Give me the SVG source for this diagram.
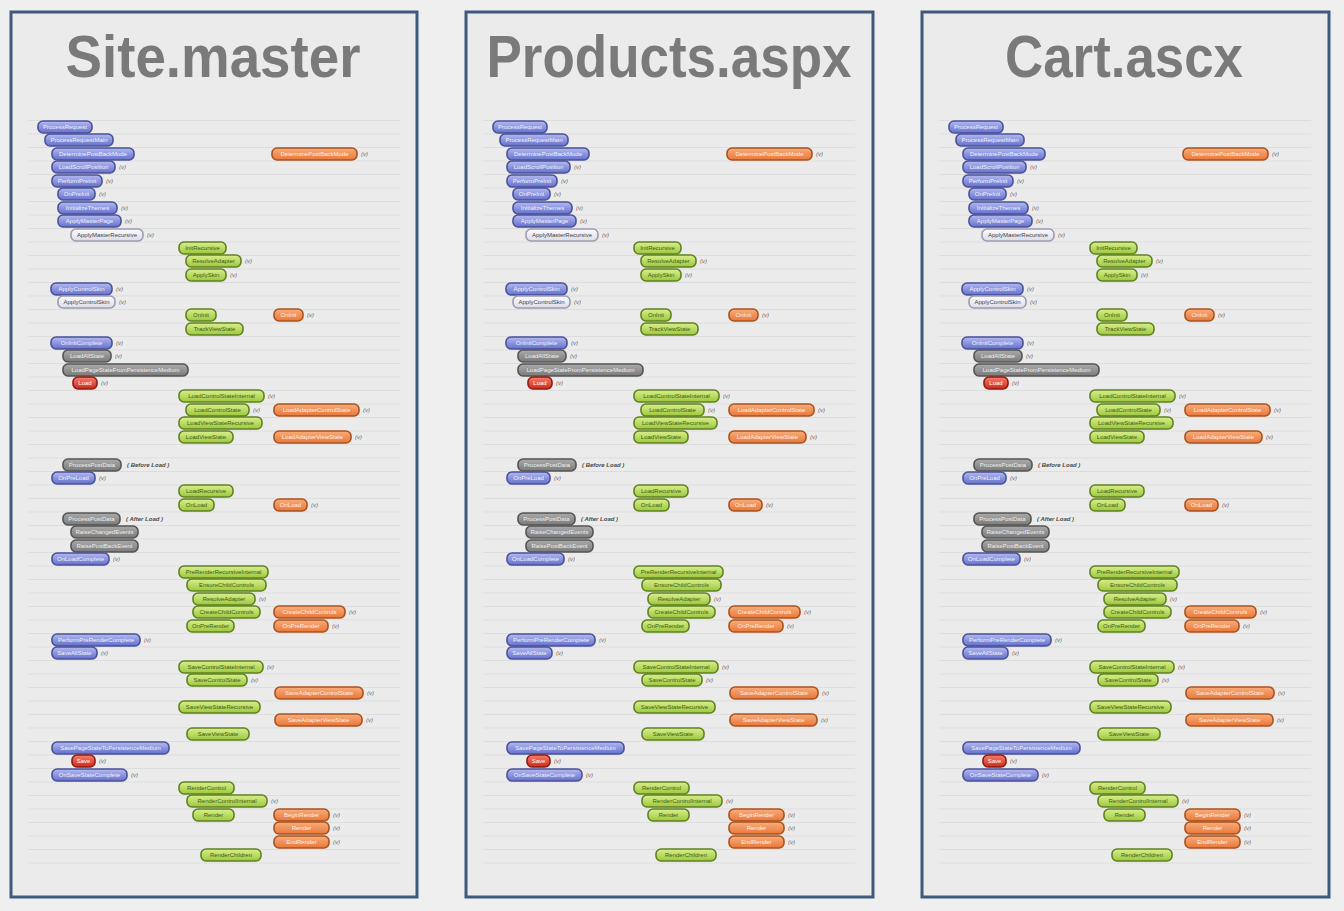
<svg xmlns="http://www.w3.org/2000/svg" width="1344" height="911" viewBox="0 0 1344 911">
<defs>
<linearGradient id="gb" x1="0" y1="0" x2="0" y2="1"><stop offset="0" stop-color="#b3baf0"/><stop offset="1" stop-color="#6570cc"/></linearGradient>
<linearGradient id="gg" x1="0" y1="0" x2="0" y2="1"><stop offset="0" stop-color="#d9ef8e"/><stop offset="1" stop-color="#9dc73e"/></linearGradient>
<linearGradient id="go" x1="0" y1="0" x2="0" y2="1"><stop offset="0" stop-color="#f8ae7c"/><stop offset="1" stop-color="#e8773a"/></linearGradient>
<linearGradient id="gk" x1="0" y1="0" x2="0" y2="1"><stop offset="0" stop-color="#ababab"/><stop offset="1" stop-color="#7a7a7a"/></linearGradient>
<linearGradient id="gl" x1="0" y1="0" x2="0" y2="1"><stop offset="0" stop-color="#fbfbfe"/><stop offset="1" stop-color="#dcdce8"/></linearGradient>
<linearGradient id="gr" x1="0" y1="0" x2="0" y2="1"><stop offset="0" stop-color="#f5806c"/><stop offset="1" stop-color="#d0281a"/></linearGradient>
<pattern id="rule" x="0" y="120" width="400" height="13.5" patternUnits="userSpaceOnUse"><line x1="0" y1="0.5" x2="400" y2="0.5" stroke="#dddddd" stroke-width="1"/></pattern>
<style>
.frame{fill:#ebebeb;stroke:#3f5a7e;stroke-width:3}
.title{font-family:"Liberation Sans",Arial,sans-serif;font-weight:bold;font-size:60px;fill:#7a7a7a;text-anchor:middle}
.n rect{rx:5px;ry:5px;stroke-width:1.6}
.n text{font-family:"Liberation Sans",Arial,sans-serif;font-size:6px;text-anchor:middle}
.b rect{fill:url(#gb);stroke:#4a5299}
.b text{fill:#f0f2ff}
.g rect{fill:url(#gg);stroke:#5f8220}
.g text{fill:#3e5c0c}
.o rect{fill:url(#go);stroke:#a9531f}
.o text{fill:#fff0e6}
.k rect{fill:url(#gk);stroke:#555555}
.k text{fill:#efefef}
.l rect{fill:url(#gl);stroke:#9c9cb0}
.l text{fill:#444444}
.r rect{fill:url(#gr);stroke:#8e1c12}
.r text{fill:#ffffff}
.n text.v{font-style:italic;text-anchor:start;fill:#666666}
.n text.note{font-style:italic;font-weight:bold;text-anchor:start;fill:#4a4a4a}
</style>
</defs>
<rect x="0" y="0" width="1344" height="911" fill="#efefef"/>
<g id="connectors"/>

<g id="panel-site-master">
<rect class="frame" x="11" y="12" width="406" height="885"/>
<rect x="28" y="120" width="372" height="750" fill="url(#rule)"/>
<text class="title" x="213" y="77" textLength="295" lengthAdjust="spacingAndGlyphs">Site.master</text>
<g id="sm-n01" class="n b"><rect x="38" y="121" width="54" height="12"/><text x="65" y="129.1">ProcessRequest</text></g>
<g id="sm-n02" class="n b"><rect x="45" y="134" width="68" height="12"/><text x="79" y="142.1">ProcessRequestMain</text></g>
<g id="sm-n03" class="n b"><rect x="52" y="148" width="82" height="12"/><text x="93" y="156.1">DeterminePostBackMode</text></g>
<g id="sm-n04" class="n o"><rect x="272" y="148" width="85" height="12"/><text x="314.5" y="156.1">DeterminePostBackMode</text><text class="v" x="361" y="156.1">(v)</text></g>
<g id="sm-n05" class="n b"><rect x="52" y="161" width="63" height="12"/><text x="83.5" y="169.1">LoadScrollPosition</text><text class="v" x="119" y="169.1">(v)</text></g>
<g id="sm-n06" class="n b"><rect x="52" y="175" width="50" height="12"/><text x="77" y="183.1">PerformPreInit</text><text class="v" x="106" y="183.1">(v)</text></g>
<g id="sm-n07" class="n b"><rect x="58" y="188" width="37" height="12"/><text x="76.5" y="196.1">OnPreInit</text><text class="v" x="99" y="196.1">(v)</text></g>
<g id="sm-n08" class="n b"><rect x="58" y="202" width="59" height="12"/><text x="87.5" y="210.1">InitializeThemes</text><text class="v" x="121" y="210.1">(v)</text></g>
<g id="sm-n09" class="n b"><rect x="58" y="215" width="63" height="12"/><text x="89.5" y="223.1">ApplyMasterPage</text><text class="v" x="125" y="223.1">(v)</text></g>
<g id="sm-n10" class="n l"><rect x="71" y="229" width="72" height="12"/><text x="107" y="237.1">ApplyMasterRecursive</text><text class="v" x="147" y="237.1">(v)</text></g>
<g id="sm-n11" class="n g"><rect x="179" y="242" width="47" height="12"/><text x="202.5" y="250.1">InitRecursive</text></g>
<g id="sm-n12" class="n g"><rect x="186" y="255" width="55" height="12"/><text x="213.5" y="263.1">ResolveAdapter</text><text class="v" x="245" y="263.1">(v)</text></g>
<g id="sm-n13" class="n g"><rect x="186" y="269" width="40" height="12"/><text x="206" y="277.1">ApplySkin</text><text class="v" x="230" y="277.1">(v)</text></g>
<g id="sm-n14" class="n b"><rect x="51" y="283" width="61" height="12"/><text x="81.5" y="291.1">ApplyControlSkin</text><text class="v" x="116" y="291.1">(v)</text></g>
<g id="sm-n15" class="n l"><rect x="58" y="296" width="57" height="12"/><text x="86.5" y="304.1">ApplyControlSkin</text><text class="v" x="119" y="304.1">(v)</text></g>
<g id="sm-n16" class="n g"><rect x="186" y="309" width="30" height="12"/><text x="201" y="317.1">OnInit</text></g>
<g id="sm-n17" class="n o"><rect x="274" y="309" width="29" height="12"/><text x="288.5" y="317.1">OnInit</text><text class="v" x="307" y="317.1">(v)</text></g>
<g id="sm-n18" class="n g"><rect x="186" y="323" width="57" height="12"/><text x="214.5" y="331.1">TrackViewState</text></g>
<g id="sm-n19" class="n b"><rect x="51" y="337" width="61" height="12"/><text x="81.5" y="345.1">OnInitComplete</text><text class="v" x="116" y="345.1">(v)</text></g>
<g id="sm-n20" class="n k"><rect x="63" y="350" width="48" height="12"/><text x="87" y="358.1">LoadAllState</text><text class="v" x="115" y="358.1">(v)</text></g>
<g id="sm-n21" class="n k"><rect x="63" y="364" width="125" height="12"/><text x="125.5" y="372.1">LoadPageStateFromPersistenceMedium</text></g>
<g id="sm-n22" class="n r"><rect x="73" y="377" width="24" height="12"/><text x="85" y="385.1">Load</text><text class="v" x="101" y="385.1">(v)</text></g>
<g id="sm-n23" class="n g"><rect x="179" y="390" width="85" height="12"/><text x="221.5" y="398.1">LoadControlStateInternal</text><text class="v" x="268" y="398.1">(v)</text></g>
<g id="sm-n24" class="n g"><rect x="186" y="404" width="63" height="12"/><text x="217.5" y="412.1">LoadControlState</text><text class="v" x="253" y="412.1">(v)</text></g>
<g id="sm-n25" class="n o"><rect x="274" y="404" width="85" height="12"/><text x="316.5" y="412.1">LoadAdapterControlState</text><text class="v" x="363" y="412.1">(v)</text></g>
<g id="sm-n26" class="n g"><rect x="179" y="417" width="83" height="12"/><text x="220.5" y="425.1">LoadViewStateRecursive</text></g>
<g id="sm-n27" class="n g"><rect x="179" y="431" width="54" height="12"/><text x="206" y="439.1">LoadViewState</text></g>
<g id="sm-n28" class="n o"><rect x="274" y="431" width="77" height="12"/><text x="312.5" y="439.1">LoadAdapterViewState</text><text class="v" x="355" y="439.1">(v)</text></g>
<g id="sm-n29" class="n k"><rect x="63" y="459" width="58" height="12"/><text x="92" y="467.1">ProcessPostData</text><text class="note" x="127" y="467.1">( Before Load )</text></g>
<g id="sm-n30" class="n b"><rect x="52" y="472" width="43" height="12"/><text x="73.5" y="480.1">OnPreLoad</text><text class="v" x="99" y="480.1">(v)</text></g>
<g id="sm-n31" class="n g"><rect x="179" y="485" width="54" height="12"/><text x="206" y="493.1">LoadRecursive</text></g>
<g id="sm-n32" class="n g"><rect x="179" y="499" width="35" height="12"/><text x="196.5" y="507.1">OnLoad</text></g>
<g id="sm-n33" class="n o"><rect x="274" y="499" width="33" height="12"/><text x="290.5" y="507.1">OnLoad</text><text class="v" x="311" y="507.1">(v)</text></g>
<g id="sm-n34" class="n k"><rect x="63" y="513" width="57" height="12"/><text x="91.5" y="521.1">ProcessPostData</text><text class="note" x="126" y="521.1">( After Load )</text></g>
<g id="sm-n35" class="n k"><rect x="71" y="526" width="67" height="12"/><text x="104.5" y="534.1">RaiseChangedEvents</text></g>
<g id="sm-n36" class="n k"><rect x="71" y="540" width="67" height="12"/><text x="104.5" y="548.1">RaisePostBackEvent</text></g>
<g id="sm-n37" class="n b"><rect x="52" y="553" width="57" height="12"/><text x="80.5" y="561.1">OnLoadComplete</text><text class="v" x="113" y="561.1">(v)</text></g>
<g id="sm-n38" class="n g"><rect x="179" y="566" width="89" height="12"/><text x="223.5" y="574.1">PreRenderRecursiveInternal</text></g>
<g id="sm-n39" class="n g"><rect x="187" y="579" width="79" height="12"/><text x="226.5" y="587.1">EnsureChildControls</text></g>
<g id="sm-n40" class="n g"><rect x="193" y="593" width="62" height="12"/><text x="224" y="601.1">ResolveAdapter</text><text class="v" x="259" y="601.1">(v)</text></g>
<g id="sm-n41" class="n g"><rect x="193" y="606" width="67" height="12"/><text x="226.5" y="614.1">CreateChildControls</text></g>
<g id="sm-n42" class="n o"><rect x="274" y="606" width="71" height="12"/><text x="309.5" y="614.1">CreateChildControls</text><text class="v" x="349" y="614.1">(v)</text></g>
<g id="sm-n43" class="n g"><rect x="187" y="620" width="47" height="12"/><text x="210.5" y="628.1">OnPreRender</text></g>
<g id="sm-n44" class="n o"><rect x="274" y="620" width="54" height="12"/><text x="301" y="628.1">OnPreRender</text><text class="v" x="332" y="628.1">(v)</text></g>
<g id="sm-n45" class="n b"><rect x="52" y="634" width="88" height="12"/><text x="96" y="642.1">PerformPreRenderComplete</text><text class="v" x="144" y="642.1">(v)</text></g>
<g id="sm-n46" class="n b"><rect x="52" y="647" width="45" height="12"/><text x="74.5" y="655.1">SaveAllState</text><text class="v" x="101" y="655.1">(v)</text></g>
<g id="sm-n47" class="n g"><rect x="179" y="661" width="84" height="12"/><text x="221" y="669.1">SaveControlStateInternal</text><text class="v" x="267" y="669.1">(v)</text></g>
<g id="sm-n48" class="n g"><rect x="187" y="674" width="60" height="12"/><text x="217" y="682.1">SaveControlState</text><text class="v" x="251" y="682.1">(v)</text></g>
<g id="sm-n49" class="n o"><rect x="275" y="687" width="88" height="12"/><text x="319" y="695.1">SaveAdapterControlState</text><text class="v" x="367" y="695.1">(v)</text></g>
<g id="sm-n50" class="n g"><rect x="179" y="701" width="81" height="12"/><text x="219.5" y="709.1">SaveViewStateRecursive</text></g>
<g id="sm-n51" class="n o"><rect x="275" y="714" width="87" height="12"/><text x="318.5" y="722.1">SaveAdapterViewState</text><text class="v" x="366" y="722.1">(v)</text></g>
<g id="sm-n52" class="n g"><rect x="187" y="728" width="62" height="12"/><text x="218" y="736.1">SaveViewState</text></g>
<g id="sm-n53" class="n b"><rect x="52" y="742" width="117" height="12"/><text x="110.5" y="750.1">SavePageStateToPersistenceMedium</text></g>
<g id="sm-n54" class="n r"><rect x="72" y="755" width="23" height="12"/><text x="83.5" y="763.1">Save</text><text class="v" x="99" y="763.1">(v)</text></g>
<g id="sm-n55" class="n b"><rect x="52" y="769" width="75" height="12"/><text x="89.5" y="777.1">OnSaveStateComplete</text><text class="v" x="131" y="777.1">(v)</text></g>
<g id="sm-n56" class="n g"><rect x="179" y="782" width="55" height="12"/><text x="206.5" y="790.1">RenderControl</text></g>
<g id="sm-n57" class="n g"><rect x="187" y="795" width="80" height="12"/><text x="227" y="803.1">RenderControlInternal</text><text class="v" x="271" y="803.1">(v)</text></g>
<g id="sm-n58" class="n g"><rect x="193" y="809" width="41" height="12"/><text x="213.5" y="817.1">Render</text></g>
<g id="sm-n59" class="n o"><rect x="274" y="809" width="55" height="12"/><text x="301.5" y="817.1">BeginRender</text><text class="v" x="333" y="817.1">(v)</text></g>
<g id="sm-n60" class="n o"><rect x="274" y="822" width="55" height="12"/><text x="301.5" y="830.1">Render</text><text class="v" x="333" y="830.1">(v)</text></g>
<g id="sm-n61" class="n o"><rect x="274" y="836" width="55" height="12"/><text x="301.5" y="844.1">EndRender</text><text class="v" x="333" y="844.1">(v)</text></g>
<g id="sm-n62" class="n g"><rect x="201" y="849" width="60" height="12"/><text x="231" y="857.1">RenderChildren</text></g>
</g>

<g id="panel-products-aspx" transform="translate(455 0)">
<rect class="frame" x="11" y="12" width="407" height="885"/>
<rect x="28" y="120" width="372" height="750" fill="url(#rule)"/>
<text class="title" x="214" y="77" textLength="365" lengthAdjust="spacingAndGlyphs">Products.aspx</text>
<g id="pa-n01" class="n b"><rect x="38" y="121" width="54" height="12"/><text x="65" y="129.1">ProcessRequest</text></g>
<g id="pa-n02" class="n b"><rect x="45" y="134" width="68" height="12"/><text x="79" y="142.1">ProcessRequestMain</text></g>
<g id="pa-n03" class="n b"><rect x="52" y="148" width="82" height="12"/><text x="93" y="156.1">DeterminePostBackMode</text></g>
<g id="pa-n04" class="n o"><rect x="272" y="148" width="85" height="12"/><text x="314.5" y="156.1">DeterminePostBackMode</text><text class="v" x="361" y="156.1">(v)</text></g>
<g id="pa-n05" class="n b"><rect x="52" y="161" width="63" height="12"/><text x="83.5" y="169.1">LoadScrollPosition</text><text class="v" x="119" y="169.1">(v)</text></g>
<g id="pa-n06" class="n b"><rect x="52" y="175" width="50" height="12"/><text x="77" y="183.1">PerformPreInit</text><text class="v" x="106" y="183.1">(v)</text></g>
<g id="pa-n07" class="n b"><rect x="58" y="188" width="37" height="12"/><text x="76.5" y="196.1">OnPreInit</text><text class="v" x="99" y="196.1">(v)</text></g>
<g id="pa-n08" class="n b"><rect x="58" y="202" width="59" height="12"/><text x="87.5" y="210.1">InitializeThemes</text><text class="v" x="121" y="210.1">(v)</text></g>
<g id="pa-n09" class="n b"><rect x="58" y="215" width="63" height="12"/><text x="89.5" y="223.1">ApplyMasterPage</text><text class="v" x="125" y="223.1">(v)</text></g>
<g id="pa-n10" class="n l"><rect x="71" y="229" width="72" height="12"/><text x="107" y="237.1">ApplyMasterRecursive</text><text class="v" x="147" y="237.1">(v)</text></g>
<g id="pa-n11" class="n g"><rect x="179" y="242" width="47" height="12"/><text x="202.5" y="250.1">InitRecursive</text></g>
<g id="pa-n12" class="n g"><rect x="186" y="255" width="55" height="12"/><text x="213.5" y="263.1">ResolveAdapter</text><text class="v" x="245" y="263.1">(v)</text></g>
<g id="pa-n13" class="n g"><rect x="186" y="269" width="40" height="12"/><text x="206" y="277.1">ApplySkin</text><text class="v" x="230" y="277.1">(v)</text></g>
<g id="pa-n14" class="n b"><rect x="51" y="283" width="61" height="12"/><text x="81.5" y="291.1">ApplyControlSkin</text><text class="v" x="116" y="291.1">(v)</text></g>
<g id="pa-n15" class="n l"><rect x="58" y="296" width="57" height="12"/><text x="86.5" y="304.1">ApplyControlSkin</text><text class="v" x="119" y="304.1">(v)</text></g>
<g id="pa-n16" class="n g"><rect x="186" y="309" width="30" height="12"/><text x="201" y="317.1">OnInit</text></g>
<g id="pa-n17" class="n o"><rect x="274" y="309" width="29" height="12"/><text x="288.5" y="317.1">OnInit</text><text class="v" x="307" y="317.1">(v)</text></g>
<g id="pa-n18" class="n g"><rect x="186" y="323" width="57" height="12"/><text x="214.5" y="331.1">TrackViewState</text></g>
<g id="pa-n19" class="n b"><rect x="51" y="337" width="61" height="12"/><text x="81.5" y="345.1">OnInitComplete</text><text class="v" x="116" y="345.1">(v)</text></g>
<g id="pa-n20" class="n k"><rect x="63" y="350" width="48" height="12"/><text x="87" y="358.1">LoadAllState</text><text class="v" x="115" y="358.1">(v)</text></g>
<g id="pa-n21" class="n k"><rect x="63" y="364" width="125" height="12"/><text x="125.5" y="372.1">LoadPageStateFromPersistenceMedium</text></g>
<g id="pa-n22" class="n r"><rect x="73" y="377" width="24" height="12"/><text x="85" y="385.1">Load</text><text class="v" x="101" y="385.1">(v)</text></g>
<g id="pa-n23" class="n g"><rect x="179" y="390" width="85" height="12"/><text x="221.5" y="398.1">LoadControlStateInternal</text><text class="v" x="268" y="398.1">(v)</text></g>
<g id="pa-n24" class="n g"><rect x="186" y="404" width="63" height="12"/><text x="217.5" y="412.1">LoadControlState</text><text class="v" x="253" y="412.1">(v)</text></g>
<g id="pa-n25" class="n o"><rect x="274" y="404" width="85" height="12"/><text x="316.5" y="412.1">LoadAdapterControlState</text><text class="v" x="363" y="412.1">(v)</text></g>
<g id="pa-n26" class="n g"><rect x="179" y="417" width="83" height="12"/><text x="220.5" y="425.1">LoadViewStateRecursive</text></g>
<g id="pa-n27" class="n g"><rect x="179" y="431" width="54" height="12"/><text x="206" y="439.1">LoadViewState</text></g>
<g id="pa-n28" class="n o"><rect x="274" y="431" width="77" height="12"/><text x="312.5" y="439.1">LoadAdapterViewState</text><text class="v" x="355" y="439.1">(v)</text></g>
<g id="pa-n29" class="n k"><rect x="63" y="459" width="58" height="12"/><text x="92" y="467.1">ProcessPostData</text><text class="note" x="127" y="467.1">( Before Load )</text></g>
<g id="pa-n30" class="n b"><rect x="52" y="472" width="43" height="12"/><text x="73.5" y="480.1">OnPreLoad</text><text class="v" x="99" y="480.1">(v)</text></g>
<g id="pa-n31" class="n g"><rect x="179" y="485" width="54" height="12"/><text x="206" y="493.1">LoadRecursive</text></g>
<g id="pa-n32" class="n g"><rect x="179" y="499" width="35" height="12"/><text x="196.5" y="507.1">OnLoad</text></g>
<g id="pa-n33" class="n o"><rect x="274" y="499" width="33" height="12"/><text x="290.5" y="507.1">OnLoad</text><text class="v" x="311" y="507.1">(v)</text></g>
<g id="pa-n34" class="n k"><rect x="63" y="513" width="57" height="12"/><text x="91.5" y="521.1">ProcessPostData</text><text class="note" x="126" y="521.1">( After Load )</text></g>
<g id="pa-n35" class="n k"><rect x="71" y="526" width="67" height="12"/><text x="104.5" y="534.1">RaiseChangedEvents</text></g>
<g id="pa-n36" class="n k"><rect x="71" y="540" width="67" height="12"/><text x="104.5" y="548.1">RaisePostBackEvent</text></g>
<g id="pa-n37" class="n b"><rect x="52" y="553" width="57" height="12"/><text x="80.5" y="561.1">OnLoadComplete</text><text class="v" x="113" y="561.1">(v)</text></g>
<g id="pa-n38" class="n g"><rect x="179" y="566" width="89" height="12"/><text x="223.5" y="574.1">PreRenderRecursiveInternal</text></g>
<g id="pa-n39" class="n g"><rect x="187" y="579" width="79" height="12"/><text x="226.5" y="587.1">EnsureChildControls</text></g>
<g id="pa-n40" class="n g"><rect x="193" y="593" width="62" height="12"/><text x="224" y="601.1">ResolveAdapter</text><text class="v" x="259" y="601.1">(v)</text></g>
<g id="pa-n41" class="n g"><rect x="193" y="606" width="67" height="12"/><text x="226.5" y="614.1">CreateChildControls</text></g>
<g id="pa-n42" class="n o"><rect x="274" y="606" width="71" height="12"/><text x="309.5" y="614.1">CreateChildControls</text><text class="v" x="349" y="614.1">(v)</text></g>
<g id="pa-n43" class="n g"><rect x="187" y="620" width="47" height="12"/><text x="210.5" y="628.1">OnPreRender</text></g>
<g id="pa-n44" class="n o"><rect x="274" y="620" width="54" height="12"/><text x="301" y="628.1">OnPreRender</text><text class="v" x="332" y="628.1">(v)</text></g>
<g id="pa-n45" class="n b"><rect x="52" y="634" width="88" height="12"/><text x="96" y="642.1">PerformPreRenderComplete</text><text class="v" x="144" y="642.1">(v)</text></g>
<g id="pa-n46" class="n b"><rect x="52" y="647" width="45" height="12"/><text x="74.5" y="655.1">SaveAllState</text><text class="v" x="101" y="655.1">(v)</text></g>
<g id="pa-n47" class="n g"><rect x="179" y="661" width="84" height="12"/><text x="221" y="669.1">SaveControlStateInternal</text><text class="v" x="267" y="669.1">(v)</text></g>
<g id="pa-n48" class="n g"><rect x="187" y="674" width="60" height="12"/><text x="217" y="682.1">SaveControlState</text><text class="v" x="251" y="682.1">(v)</text></g>
<g id="pa-n49" class="n o"><rect x="275" y="687" width="88" height="12"/><text x="319" y="695.1">SaveAdapterControlState</text><text class="v" x="367" y="695.1">(v)</text></g>
<g id="pa-n50" class="n g"><rect x="179" y="701" width="81" height="12"/><text x="219.5" y="709.1">SaveViewStateRecursive</text></g>
<g id="pa-n51" class="n o"><rect x="275" y="714" width="87" height="12"/><text x="318.5" y="722.1">SaveAdapterViewState</text><text class="v" x="366" y="722.1">(v)</text></g>
<g id="pa-n52" class="n g"><rect x="187" y="728" width="62" height="12"/><text x="218" y="736.1">SaveViewState</text></g>
<g id="pa-n53" class="n b"><rect x="52" y="742" width="117" height="12"/><text x="110.5" y="750.1">SavePageStateToPersistenceMedium</text></g>
<g id="pa-n54" class="n r"><rect x="72" y="755" width="23" height="12"/><text x="83.5" y="763.1">Save</text><text class="v" x="99" y="763.1">(v)</text></g>
<g id="pa-n55" class="n b"><rect x="52" y="769" width="75" height="12"/><text x="89.5" y="777.1">OnSaveStateComplete</text><text class="v" x="131" y="777.1">(v)</text></g>
<g id="pa-n56" class="n g"><rect x="179" y="782" width="55" height="12"/><text x="206.5" y="790.1">RenderControl</text></g>
<g id="pa-n57" class="n g"><rect x="187" y="795" width="80" height="12"/><text x="227" y="803.1">RenderControlInternal</text><text class="v" x="271" y="803.1">(v)</text></g>
<g id="pa-n58" class="n g"><rect x="193" y="809" width="41" height="12"/><text x="213.5" y="817.1">Render</text></g>
<g id="pa-n59" class="n o"><rect x="274" y="809" width="55" height="12"/><text x="301.5" y="817.1">BeginRender</text><text class="v" x="333" y="817.1">(v)</text></g>
<g id="pa-n60" class="n o"><rect x="274" y="822" width="55" height="12"/><text x="301.5" y="830.1">Render</text><text class="v" x="333" y="830.1">(v)</text></g>
<g id="pa-n61" class="n o"><rect x="274" y="836" width="55" height="12"/><text x="301.5" y="844.1">EndRender</text><text class="v" x="333" y="844.1">(v)</text></g>
<g id="pa-n62" class="n g"><rect x="201" y="849" width="60" height="12"/><text x="231" y="857.1">RenderChildren</text></g>
</g>

<g id="panel-cart-ascx" transform="translate(911 0)">
<rect class="frame" x="11" y="12" width="407" height="885"/>
<rect x="28" y="120" width="372" height="750" fill="url(#rule)"/>
<text class="title" x="213" y="77" textLength="238" lengthAdjust="spacingAndGlyphs">Cart.ascx</text>
<g id="ca-n01" class="n b"><rect x="38" y="121" width="54" height="12"/><text x="65" y="129.1">ProcessRequest</text></g>
<g id="ca-n02" class="n b"><rect x="45" y="134" width="68" height="12"/><text x="79" y="142.1">ProcessRequestMain</text></g>
<g id="ca-n03" class="n b"><rect x="52" y="148" width="82" height="12"/><text x="93" y="156.1">DeterminePostBackMode</text></g>
<g id="ca-n04" class="n o"><rect x="272" y="148" width="85" height="12"/><text x="314.5" y="156.1">DeterminePostBackMode</text><text class="v" x="361" y="156.1">(v)</text></g>
<g id="ca-n05" class="n b"><rect x="52" y="161" width="63" height="12"/><text x="83.5" y="169.1">LoadScrollPosition</text><text class="v" x="119" y="169.1">(v)</text></g>
<g id="ca-n06" class="n b"><rect x="52" y="175" width="50" height="12"/><text x="77" y="183.1">PerformPreInit</text><text class="v" x="106" y="183.1">(v)</text></g>
<g id="ca-n07" class="n b"><rect x="58" y="188" width="37" height="12"/><text x="76.5" y="196.1">OnPreInit</text><text class="v" x="99" y="196.1">(v)</text></g>
<g id="ca-n08" class="n b"><rect x="58" y="202" width="59" height="12"/><text x="87.5" y="210.1">InitializeThemes</text><text class="v" x="121" y="210.1">(v)</text></g>
<g id="ca-n09" class="n b"><rect x="58" y="215" width="63" height="12"/><text x="89.5" y="223.1">ApplyMasterPage</text><text class="v" x="125" y="223.1">(v)</text></g>
<g id="ca-n10" class="n l"><rect x="71" y="229" width="72" height="12"/><text x="107" y="237.1">ApplyMasterRecursive</text><text class="v" x="147" y="237.1">(v)</text></g>
<g id="ca-n11" class="n g"><rect x="179" y="242" width="47" height="12"/><text x="202.5" y="250.1">InitRecursive</text></g>
<g id="ca-n12" class="n g"><rect x="186" y="255" width="55" height="12"/><text x="213.5" y="263.1">ResolveAdapter</text><text class="v" x="245" y="263.1">(v)</text></g>
<g id="ca-n13" class="n g"><rect x="186" y="269" width="40" height="12"/><text x="206" y="277.1">ApplySkin</text><text class="v" x="230" y="277.1">(v)</text></g>
<g id="ca-n14" class="n b"><rect x="51" y="283" width="61" height="12"/><text x="81.5" y="291.1">ApplyControlSkin</text><text class="v" x="116" y="291.1">(v)</text></g>
<g id="ca-n15" class="n l"><rect x="58" y="296" width="57" height="12"/><text x="86.5" y="304.1">ApplyControlSkin</text><text class="v" x="119" y="304.1">(v)</text></g>
<g id="ca-n16" class="n g"><rect x="186" y="309" width="30" height="12"/><text x="201" y="317.1">OnInit</text></g>
<g id="ca-n17" class="n o"><rect x="274" y="309" width="29" height="12"/><text x="288.5" y="317.1">OnInit</text><text class="v" x="307" y="317.1">(v)</text></g>
<g id="ca-n18" class="n g"><rect x="186" y="323" width="57" height="12"/><text x="214.5" y="331.1">TrackViewState</text></g>
<g id="ca-n19" class="n b"><rect x="51" y="337" width="61" height="12"/><text x="81.5" y="345.1">OnInitComplete</text><text class="v" x="116" y="345.1">(v)</text></g>
<g id="ca-n20" class="n k"><rect x="63" y="350" width="48" height="12"/><text x="87" y="358.1">LoadAllState</text><text class="v" x="115" y="358.1">(v)</text></g>
<g id="ca-n21" class="n k"><rect x="63" y="364" width="125" height="12"/><text x="125.5" y="372.1">LoadPageStateFromPersistenceMedium</text></g>
<g id="ca-n22" class="n r"><rect x="73" y="377" width="24" height="12"/><text x="85" y="385.1">Load</text><text class="v" x="101" y="385.1">(v)</text></g>
<g id="ca-n23" class="n g"><rect x="179" y="390" width="85" height="12"/><text x="221.5" y="398.1">LoadControlStateInternal</text><text class="v" x="268" y="398.1">(v)</text></g>
<g id="ca-n24" class="n g"><rect x="186" y="404" width="63" height="12"/><text x="217.5" y="412.1">LoadControlState</text><text class="v" x="253" y="412.1">(v)</text></g>
<g id="ca-n25" class="n o"><rect x="274" y="404" width="85" height="12"/><text x="316.5" y="412.1">LoadAdapterControlState</text><text class="v" x="363" y="412.1">(v)</text></g>
<g id="ca-n26" class="n g"><rect x="179" y="417" width="83" height="12"/><text x="220.5" y="425.1">LoadViewStateRecursive</text></g>
<g id="ca-n27" class="n g"><rect x="179" y="431" width="54" height="12"/><text x="206" y="439.1">LoadViewState</text></g>
<g id="ca-n28" class="n o"><rect x="274" y="431" width="77" height="12"/><text x="312.5" y="439.1">LoadAdapterViewState</text><text class="v" x="355" y="439.1">(v)</text></g>
<g id="ca-n29" class="n k"><rect x="63" y="459" width="58" height="12"/><text x="92" y="467.1">ProcessPostData</text><text class="note" x="127" y="467.1">( Before Load )</text></g>
<g id="ca-n30" class="n b"><rect x="52" y="472" width="43" height="12"/><text x="73.5" y="480.1">OnPreLoad</text><text class="v" x="99" y="480.1">(v)</text></g>
<g id="ca-n31" class="n g"><rect x="179" y="485" width="54" height="12"/><text x="206" y="493.1">LoadRecursive</text></g>
<g id="ca-n32" class="n g"><rect x="179" y="499" width="35" height="12"/><text x="196.5" y="507.1">OnLoad</text></g>
<g id="ca-n33" class="n o"><rect x="274" y="499" width="33" height="12"/><text x="290.5" y="507.1">OnLoad</text><text class="v" x="311" y="507.1">(v)</text></g>
<g id="ca-n34" class="n k"><rect x="63" y="513" width="57" height="12"/><text x="91.5" y="521.1">ProcessPostData</text><text class="note" x="126" y="521.1">( After Load )</text></g>
<g id="ca-n35" class="n k"><rect x="71" y="526" width="67" height="12"/><text x="104.5" y="534.1">RaiseChangedEvents</text></g>
<g id="ca-n36" class="n k"><rect x="71" y="540" width="67" height="12"/><text x="104.5" y="548.1">RaisePostBackEvent</text></g>
<g id="ca-n37" class="n b"><rect x="52" y="553" width="57" height="12"/><text x="80.5" y="561.1">OnLoadComplete</text><text class="v" x="113" y="561.1">(v)</text></g>
<g id="ca-n38" class="n g"><rect x="179" y="566" width="89" height="12"/><text x="223.5" y="574.1">PreRenderRecursiveInternal</text></g>
<g id="ca-n39" class="n g"><rect x="187" y="579" width="79" height="12"/><text x="226.5" y="587.1">EnsureChildControls</text></g>
<g id="ca-n40" class="n g"><rect x="193" y="593" width="62" height="12"/><text x="224" y="601.1">ResolveAdapter</text><text class="v" x="259" y="601.1">(v)</text></g>
<g id="ca-n41" class="n g"><rect x="193" y="606" width="67" height="12"/><text x="226.5" y="614.1">CreateChildControls</text></g>
<g id="ca-n42" class="n o"><rect x="274" y="606" width="71" height="12"/><text x="309.5" y="614.1">CreateChildControls</text><text class="v" x="349" y="614.1">(v)</text></g>
<g id="ca-n43" class="n g"><rect x="187" y="620" width="47" height="12"/><text x="210.5" y="628.1">OnPreRender</text></g>
<g id="ca-n44" class="n o"><rect x="274" y="620" width="54" height="12"/><text x="301" y="628.1">OnPreRender</text><text class="v" x="332" y="628.1">(v)</text></g>
<g id="ca-n45" class="n b"><rect x="52" y="634" width="88" height="12"/><text x="96" y="642.1">PerformPreRenderComplete</text><text class="v" x="144" y="642.1">(v)</text></g>
<g id="ca-n46" class="n b"><rect x="52" y="647" width="45" height="12"/><text x="74.5" y="655.1">SaveAllState</text><text class="v" x="101" y="655.1">(v)</text></g>
<g id="ca-n47" class="n g"><rect x="179" y="661" width="84" height="12"/><text x="221" y="669.1">SaveControlStateInternal</text><text class="v" x="267" y="669.1">(v)</text></g>
<g id="ca-n48" class="n g"><rect x="187" y="674" width="60" height="12"/><text x="217" y="682.1">SaveControlState</text><text class="v" x="251" y="682.1">(v)</text></g>
<g id="ca-n49" class="n o"><rect x="275" y="687" width="88" height="12"/><text x="319" y="695.1">SaveAdapterControlState</text><text class="v" x="367" y="695.1">(v)</text></g>
<g id="ca-n50" class="n g"><rect x="179" y="701" width="81" height="12"/><text x="219.5" y="709.1">SaveViewStateRecursive</text></g>
<g id="ca-n51" class="n o"><rect x="275" y="714" width="87" height="12"/><text x="318.5" y="722.1">SaveAdapterViewState</text><text class="v" x="366" y="722.1">(v)</text></g>
<g id="ca-n52" class="n g"><rect x="187" y="728" width="62" height="12"/><text x="218" y="736.1">SaveViewState</text></g>
<g id="ca-n53" class="n b"><rect x="52" y="742" width="117" height="12"/><text x="110.5" y="750.1">SavePageStateToPersistenceMedium</text></g>
<g id="ca-n54" class="n r"><rect x="72" y="755" width="23" height="12"/><text x="83.5" y="763.1">Save</text><text class="v" x="99" y="763.1">(v)</text></g>
<g id="ca-n55" class="n b"><rect x="52" y="769" width="75" height="12"/><text x="89.5" y="777.1">OnSaveStateComplete</text><text class="v" x="131" y="777.1">(v)</text></g>
<g id="ca-n56" class="n g"><rect x="179" y="782" width="55" height="12"/><text x="206.5" y="790.1">RenderControl</text></g>
<g id="ca-n57" class="n g"><rect x="187" y="795" width="80" height="12"/><text x="227" y="803.1">RenderControlInternal</text><text class="v" x="271" y="803.1">(v)</text></g>
<g id="ca-n58" class="n g"><rect x="193" y="809" width="41" height="12"/><text x="213.5" y="817.1">Render</text></g>
<g id="ca-n59" class="n o"><rect x="274" y="809" width="55" height="12"/><text x="301.5" y="817.1">BeginRender</text><text class="v" x="333" y="817.1">(v)</text></g>
<g id="ca-n60" class="n o"><rect x="274" y="822" width="55" height="12"/><text x="301.5" y="830.1">Render</text><text class="v" x="333" y="830.1">(v)</text></g>
<g id="ca-n61" class="n o"><rect x="274" y="836" width="55" height="12"/><text x="301.5" y="844.1">EndRender</text><text class="v" x="333" y="844.1">(v)</text></g>
<g id="ca-n62" class="n g"><rect x="201" y="849" width="60" height="12"/><text x="231" y="857.1">RenderChildren</text></g>
</g>
</svg>
